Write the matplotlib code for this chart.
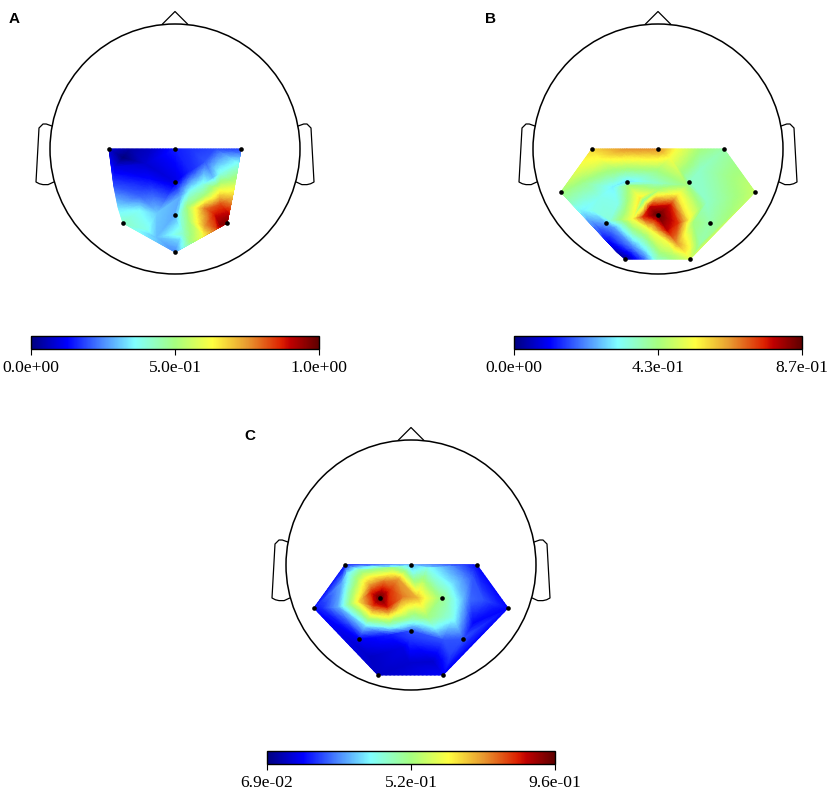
"""Three EEG scalp topographies with their colourbars."""
import matplotlib

matplotlib.use('Agg')
import matplotlib.pyplot as plt
import matplotlib.tri as mtri
import numpy as np
from matplotlib.colors import LinearSegmentedColormap, Normalize
from matplotlib.cm import ScalarMappable
from matplotlib.patches import Circle

plt.rcParams['font.family'] = ['Liberation Serif', 'DejaVu Serif']

W, H = 829, 791
HEAD_R = 125.0

# sensor positions, pixels from the head centre on a head of radius 125
a_sx = [-66, 0, 66, 0, 0, -52, 52, 0]
a_sy = [0, 0, 0, -33, -66, -74, -74, -103]
a_sv = [0.08, 0.15, 0.18, 0.10, 0.28, 0.42, 0.97, 0.25]
# extra readings of the colour between the sensors (x, y, colourbar fraction)
a_kx = [-52, -45, -25, 15, 40, 63, 60, 57, 53, 30, 38, 15, 28, 45, -30, -60, -25, 15, 5, -61, -35, -57, -35, -18,
        -28, -18, 5, 15, 28, 42, 23, 30, 30, 40, 45, 12, 12, 30, 45, 3, 8, 45, 49]
a_ky = [-9, 0, 0, 0, 0, -14, -34, -48, -64, -12, -28, -43, -35, -24, -15, -18, -30, -22, -48, -38, -48, -58, -61, -64,
        -81, -88, -90, -93, -86, -79, -69, -59, -77, -65, -55, -58, -72, -46, -40, -66, -85, -76, -68]
a_kv = [0.0, 0.04, 0.07, 0.17, 0.19, 0.37, 0.55, 0.70, 0.90, 0.20, 0.30, 0.38, 0.38, 0.38, 0.08, 0.10, 0.13, 0.16, 0.28, 0.20, 0.22, 0.33, 0.36, 0.31,
        0.38, 0.30, 0.33, 0.50, 0.62, 0.85, 0.65, 0.78, 0.75, 0.88, 0.82, 0.50, 0.48, 0.50, 0.60, 0.36, 0.42, 0.95, 0.92]

b_sx = [-66, 0, 66, -31, 31, -97, 97, -52, 52, 0, -33, 32]
b_sy = [0, 0, 0, -33, -33, -43, -43, -74, -74, -66, -110, -110]
b_sv = [0.68, 0.76, 0.45, 0.33, 0.42, 0.50, 0.55, 0.28, 0.45, 1.0, 0.02, 0.58]
b_kx = [-31, 19, 42, 12, -58, -75, -41, -1, 42, 75, 49, -65, -75, -45, -15, -30, 29, 35, -48, 2,
        -8, 12, 20, -15, 9, 19, 27, -18, 19, 30, 32, -26, -8, 9,
        -58, -40, -45, -58, -68, -75, -48, -40, -25, -11, -15, -25, -1, 15, 42, 0, 0]
b_ky = [0, 0, 0, -9, -11, -21, -21, -21, -21, -28, -54, -61, -34, -38, -51, -36, -36, -74, -71, -104,
        -58, -56, -74, -68, -81, -94, -103, -49, -46, -71, -98, -70, -81, -93,
        -48, -54, -78, -81, -71, -61, -94, -104, -98, -104, -110, -110, -110, -104, -95, -34, -41]
b_kv = [0.76, 0.62, 0.50, 0.62, 0.62, 0.58, 0.50, 0.50, 0.42, 0.50, 0.42, 0.38, 0.48, 0.35, 0.45, 0.50, 0.50, 0.50, 0.40, 0.50,
        0.90, 0.88, 0.85, 0.85, 0.90, 0.75, 0.65, 0.66, 0.66, 0.66, 0.62, 0.62, 0.62, 0.62,
        0.38, 0.38, 0.27, 0.20, 0.28, 0.35, 0.12, 0.05, 0.25, 0.33, 0.20, 0.10, 0.42, 0.55, 0.45, 0.42, 0.52]

c_sx = [-66, 0, 66, -31, 31, -97, 97, -52, 52, 0, -33, 32]
c_sy = [0, 0, 0, -33, -33, -43, -43, -74, -74, -66, -110, -110]
c_sv = [0.14, 0.28, 0.13, 1.0, 0.48, 0.14, 0.13, 0.12, 0.20, 0.20, 0.07, 0.12]
c_kx = [-41, -13, -27, 6, 12, -53, -39, -14, -64, -51, -18, 16, 42, 52, 42, 16, 2, -21, -46, -73, -69, -88, 72, 82, -21, -8, 22, 39, -1, -41, 62,
        -41, -21, -8, -24, -38, 59, 62, 32, -1]
c_ky = [-20, -14, -16, -33, -33, -37, -47, -47, -8, -5, -3, -3, -18, -35, -53, -52, -55, -61, -61, -42, -18, -43, -35, -42, -70, -83, -97, -92, -98, -92, -12,
        -28, -25, -32, -42, -40, -35, -58, -75, -75]
c_kv = [0.75, 0.75, 0.78, 0.72, 0.65, 0.65, 0.70, 0.65, 0.33, 0.45, 0.50, 0.38, 0.33, 0.30, 0.38, 0.50, 0.42, 0.40, 0.33, 0.28, 0.28, 0.17, 0.20, 0.15, 0.15, 0.10, 0.08, 0.18, 0.08, 0.07, 0.20,
        0.85, 0.85, 0.78, 0.88, 0.85, 0.22, 0.13, 0.20, 0.17]

# colourbar stops
cbar_pos = [0.0, 0.125, 0.25, 0.36, 0.50, 0.63, 0.75, 0.87, 0.90, 1.0]
cbar_col = ['#00007f', '#0000ff', '#4d8cff', '#80ffff', '#a6ff80', '#ffff40',
            '#e89a30', '#dd2000', '#c00000', '#5f0000']
cmap = LinearSegmentedColormap.from_list('topo', list(zip(cbar_pos, cbar_col)), N=512)

# outline of the head, in head radii
nose_x = [-0.10, 0.0, 0.10]
nose_y = [1.0, 1.10, 1.0]
ear_x = [0.985, 1.03, 1.056, 1.088, 1.112, 1.085, 1.056, 1.015, 0.972]
ear_y = [0.184, 0.20, 0.20, 0.168, -0.264, -0.278, -0.285, -0.285, -0.265]


def add_axes_px(left, top, width, height):
    return plt.gcf().add_axes([left / W, 1 - (top + height) / H, width / W, height / H])


def draw_panel(letter, letter_xy, center, cbar_left, cbar_top, sx, sy, sv, kx, ky, kv, limits, labels):
    cx, cy = center
    ax = add_axes_px(cx - 150, cy - 150, 300, 300)
    ax.set_xlim(-150, 150)
    ax.set_ylim(-150, 150)
    ax.axis('off')

    x = np.array(sx + kx, dtype=float)
    y = np.array(sy + ky, dtype=float)
    v = np.array(sv + kv, dtype=float)
    lo, hi = limits
    v = lo + v * (hi - lo)

    tri = mtri.Triangulation(x, y)
    # linear, the reference has straight kinks in its colour bands
    interp = mtri.LinearTriInterpolator(tri, v)
    fine, fine_v = mtri.UniformTriRefiner(tri).refine_field(v, triinterpolator=interp, subdiv=4)
    norm = Normalize(lo, hi)
    ax.tripcolor(fine, fine_v, cmap=cmap, norm=norm, shading='gouraud', zorder=1)

    ax.add_patch(Circle((0, 0), HEAD_R, fill=False, edgecolor='black', lw=1.1, zorder=3))
    ax.plot(HEAD_R * np.array(nose_x), HEAD_R * np.array(nose_y), color='black', lw=0.9, zorder=3)
    for side in (-1, 1):
        ax.plot(side * HEAD_R * np.array(ear_x), HEAD_R * np.array(ear_y), color='black', lw=0.9, zorder=3)
    ax.scatter(sx, sy, s=11, color='black', linewidths=0, zorder=4)

    plt.gcf().text(letter_xy[0] / W, 1 - letter_xy[1] / H, letter, fontsize=11, fontweight='bold',
                   family='Liberation Sans', ha='left', va='center')

    cax = add_axes_px(cbar_left, cbar_top, 288, 13)
    cb = plt.colorbar(ScalarMappable(norm=norm, cmap=cmap), cax=cax, orientation='horizontal')
    cb.set_ticks([lo, (lo + hi) / 2, hi])
    cb.set_ticklabels(labels)
    cb.ax.tick_params(length=4, width=0.8, labelsize=12.6, pad=4)
    cb.outline.set_linewidth(1.0)


fig = plt.figure(figsize=(W / 100, H / 100), dpi=100)

draw_panel('A', (9, 19), (175, 149), 31, 336, a_sx, a_sy, a_sv, a_kx, a_ky, a_kv,
           (0.0, 1.0), ['0.0e+00', '5.0e-01', '1.0e+00'])
draw_panel('B', (485, 19), (658, 149), 514, 336, b_sx, b_sy, b_sv, b_kx, b_ky, b_kv,
           (0.0, 0.87), ['0.0e+00', '4.3e-01', '8.7e-01'])
draw_panel('C', (244, 436), (411, 565), 267, 751, c_sx, c_sy, c_sv, c_kx, c_ky, c_kv,
           (0.069, 0.96), ['6.9e-02', '5.2e-01', '9.6e-01'])

fig.savefig('out.png', dpi=100)
